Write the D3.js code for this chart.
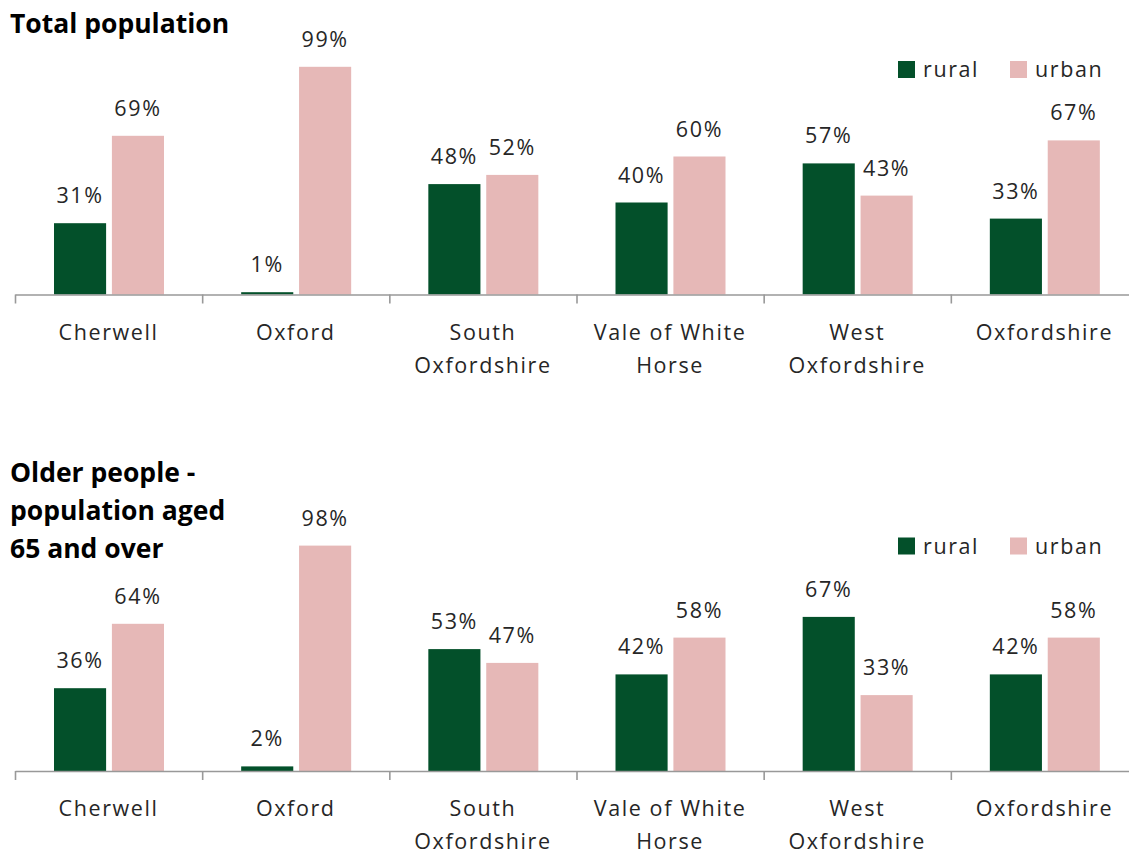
<!DOCTYPE html>
<html>
<head>
<meta charset="utf-8">
<script src="https://cdn.jsdelivr.net/npm/d3@7"></script>
<style>
  body { margin: 0; background: #fff; }
  text { font-family: "Open Sans", "Noto Sans", sans-serif; fill: #262626; }
</style>
</head>
<body>
<div id="chart"></div>
<script>
// Rural / urban split by district, two panels

const categories = ["Cherwell", "Oxford", "South Oxfordshire", "Vale of White Horse", "West Oxfordshire", "Oxfordshire"];
const seriesNames = ["rural", "urban"];

const totalRural = [31, 1, 48, 40, 57, 33];
const totalUrban = [69, 99, 52, 60, 43, 67];

const olderRural = [36, 2, 53, 42, 67, 42];
const olderUrban = [64, 98, 47, 58, 33, 58];

const totalTitle = ["Total population"];
const olderTitle = ["Older people -", "population aged", "65 and over"];

const width = 1129, height = 854;
const clrSeries = {rural: "#03502a", urban: "#e6b8b7"};

let svg = d3.select('#chart').append('svg')
    .attr('width', width)
    .attr('height', height);

// shared x scales
let x0 = d3.scaleBand().domain(categories).range([15, 1138]);
let x1 = d3.scaleBand().domain(seriesNames).range([39, 149]).paddingInner(0.1);
let xb = d3.scaleLinear().domain([0, categories.length]).range([15, 1138]);

function drawPanel(base, rural, urban, title, titleY) {
    let g = svg.append('g');
    let y = d3.scaleLinear().domain([0, 100]).range([base, base - 230]);

    let rows = categories.map((c, i) => ({cat: c, rural: rural[i], urban: urban[i]}));

    // title
    g.append('text')
        .attr('x', 10)
        .attr('font-size', 26.5)
        .attr('font-weight', 'bold')
        .style('fill', '#000')
        .selectAll('tspan')
        .data(title).enter()
        .append('tspan')
        .attr('x', 10)
        .attr('y', (d, i) => titleY + i * 38)
        .text(d => d);

    // bars
    let grp = g.selectAll('g.cat')
        .data(rows).enter()
        .append('g')
        .attr('class', 'cat')
        .attr('transform', d => `translate(${x0(d.cat)},0)`);

    grp.selectAll('rect')
        .data(d => seriesNames.map(s => ({s: s, v: d[s]})))
        .enter().append('rect')
        .attr('x', d => x1(d.s))
        .attr('width', x1.bandwidth())
        .attr('y', d => y(d.v))
        .attr('height', d => base - y(d.v))
        .attr('fill', d => clrSeries[d.s]);

    grp.selectAll('text.val')
        .data(d => seriesNames.map(s => ({s: s, v: d[s]})))
        .enter().append('text')
        .attr('class', 'val')
        .attr('x', d => x1(d.s) + x1.bandwidth() / 2)
        .attr('y', d => y(d.v) - 20)
        .attr('text-anchor', 'middle')
        .attr('font-size', 21.5)
        .attr('letter-spacing', 1.6)
        .text(d => d.v + '%');

    // axis
    let ax = g.append('g')
        .attr('transform', `translate(0,${base})`)
        .call(d3.axisBottom(xb)
            .tickValues(d3.range(categories.length + 1))
            .tickFormat('')
            .tickSizeInner(9)
            .tickSizeOuter(0));
    ax.selectAll('path, line').attr('stroke', '#999').attr('stroke-width', 1.6);

    // category labels
    g.selectAll('text.cat')
        .data(categories).enter()
        .append('text')
        .attr('class', 'cat')
        .attr('text-anchor', 'middle')
        .attr('font-size', 21.5)
        .attr('letter-spacing', 1.6)
        .each(function(d) { wrap(d3.select(this), d, 180, x0(d) + x0.bandwidth() / 2, base + 45); });

    // legend
    let lg = g.append('g').selectAll('g')
        .data(seriesNames).enter()
        .append('g')
        .attr('transform', (d, i) => `translate(${898 + i * 112},${base - 233.5})`);
    lg.append('rect')
        .attr('width', 17).attr('height', 17)
        .attr('fill', d => clrSeries[d]);
    lg.append('text')
        .attr('x', 25).attr('y', 16)
        .attr('font-size', 21.5)
        .attr('letter-spacing', 1.6)
        .text(d => d);
}

// wrap label words into lines of max width
function wrap(txt, label, maxW, cx, y0) {
    let words = label.split(' ');
    let line = [];
    let lineNo = 0;
    let tspan = txt.text(null).append('tspan').attr('x', cx).attr('y', y0);
    words.forEach(w => {
        line.push(w);
        tspan.text(line.join(' '));
        if (tspan.node().getComputedTextLength() > maxW && line.length > 1) {
            line.pop();
            tspan.text(line.join(' '));
            line = [w];
            lineNo++;
            tspan = txt.append('tspan').attr('x', cx).attr('y', y0 + lineNo * 33).text(w);
        }
    });
}

drawPanel(294.5, totalRural, totalUrban, totalTitle, 33);
drawPanel(771, olderRural, olderUrban, olderTitle, 482);
</script>
</body>
</html>
